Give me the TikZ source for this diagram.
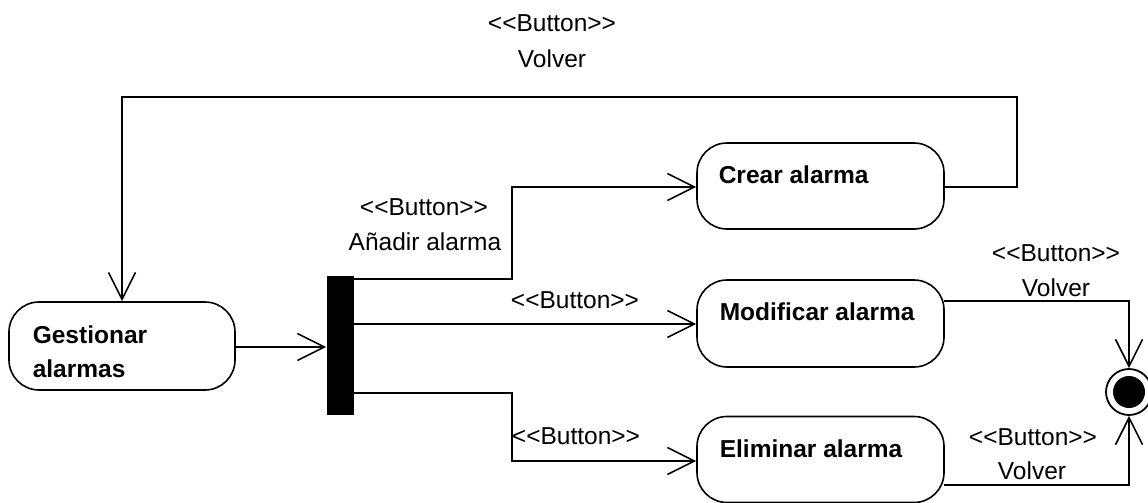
\documentclass[tikz,border=0pt]{standalone}
\usepackage{fontspec}
\setmainfont{Liberation Sans}
\usetikzlibrary{arrows.meta}
\newcommand{\btn}{<{}<Button>{}>}
\begin{document}
\begin{tikzpicture}[x=1pt,y=-1pt,
  line width=1.6pt,
  every node/.style={font=\fontsize{24.5}{30}\selectfont},
  activity/.style={draw, rounded corners=30pt, minimum width=#1, minimum height=86pt, inner sep=0pt},
  btxt/.style={inner sep=0pt, anchor=base west, font=\fontsize{24.5}{30}\selectfont\bfseries},
  lbl/.style={inner sep=0pt, anchor=base},
  flow/.style={-{Straight Barb[length=27pt,width=27pt]}, line join=miter},
  forkbar/.style={fill=black, draw=none, minimum width=27pt, minimum height=139pt, inner sep=0pt}
]
\useasboundingbox (0,0) rectangle (1148,503);

% activities
\node[activity=226pt, minimum height=88pt] (gest) at (122,346) {};
\node[btxt] (gestT1) at (32,343) {Gestionar};
\node[btxt] (gestT2) at (32,377) {alarmas};

\node[activity=247pt] (crear) at (820.5,186) {};
\node[btxt] (crearT) at (718,183) {Crear alarma};

\node[activity=247pt, minimum height=87pt] (modif) at (820.5,323.5) {};
\node[btxt] (modifT) at (719,320) {Modificar alarma};

\node[activity=247pt] (elim) at (820.5,459.5) {};
\node[btxt] (elimT) at (719,457) {Eliminar alarma};

% fork bar
\node[forkbar] (bar) at (340.5,345.5) {};

% final node
\node[circle, draw, line width=1.8pt, minimum size=46pt, inner sep=0pt] (final) at (1129,392) {};
\node[circle, fill=black, minimum size=32pt, inner sep=0pt] (finalin) at (1129,392) {};

% coordinates
\coordinate (b1) at (354,279);
\coordinate (b2) at (354,324);
\coordinate (b3) at (354,393);
\coordinate (k1) at (512,279);
\coordinate (k2) at (512,393);
\coordinate (cr) at (944,187);
\coordinate (mr) at (944,301);
\coordinate (er) at (944,485);
\coordinate (r1) at (1017,97);
\coordinate (fx) at (1129,301);
\coordinate (fy) at (1129,485);

% connectors
\draw[flow] (gest.east |- 0,347) -- (bar.west |- 0,347);
\draw[flow] (b1) -- (k1) |- (crear.west |- 0,187);
\draw[flow] (b2) -- (modif.west |- b2);
\draw[flow] (b3) -- (k2) |- (elim.west |- 0,461);
\draw[flow] (cr) -| (r1) -| (gest.north);
\draw[flow] (mr) -- (fx) -- (final.north);
\draw[flow] (er) -- (fy) -- (final.south);

% labels
\node[lbl] (l1a) at (552,32) {\btn};
\node[lbl] (l1b) at (552,67) {Volver};
\node[lbl] (l2a) at (424,215) {\btn};
\node[lbl] (l2b) at (425,250) {Añadir alarma};
\node[lbl] (l3) at (575,308) {\btn};
\node[lbl] (l4) at (576,444) {\btn};
\node[lbl] (l5a) at (1056,261) {\btn};
\node[lbl] (l5b) at (1056,296) {Volver};
\node[lbl] (l6a) at (1033,445) {\btn};
\node[lbl] (l6b) at (1032,479) {Volver};
\end{tikzpicture}
\end{document}
